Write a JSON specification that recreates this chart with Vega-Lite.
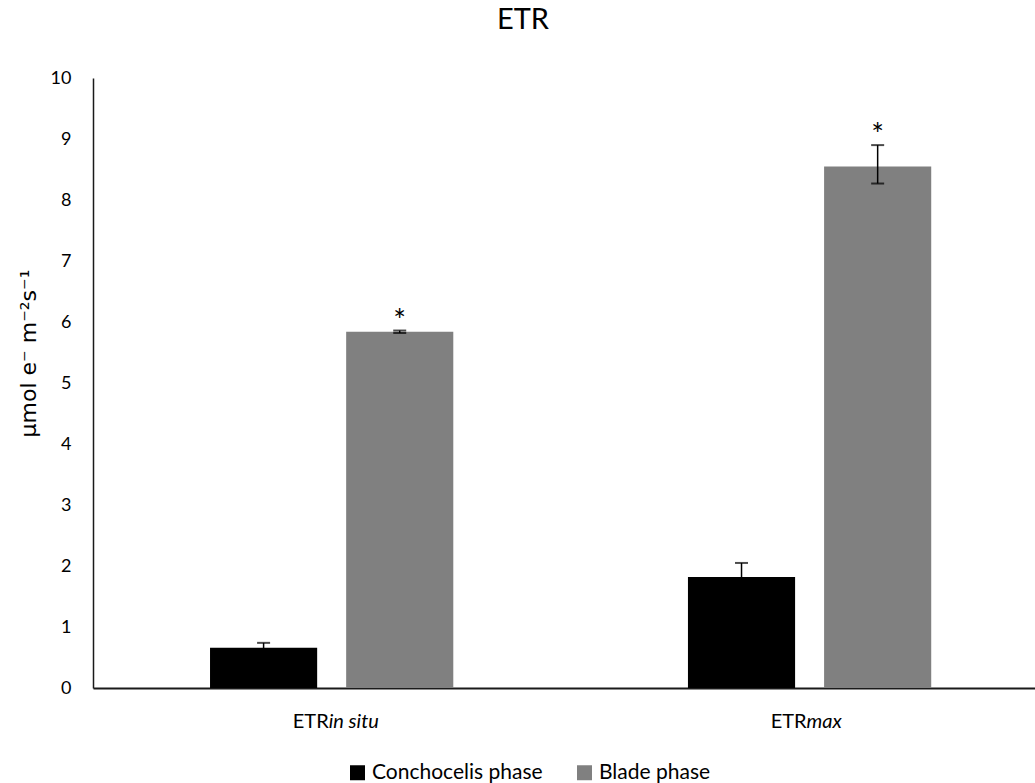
{
  "$schema": "https://vega.github.io/schema/vega-lite/v6.json",
  "width": 942,
  "height": 610,
  "autosize": "none",
  "padding": {"left": 93, "top": 78, "right": 0, "bottom": 95},
  "background": "white",
  "config": {"view": {"stroke": null}, "font": "Lato"},
  "title": {"text": "ETR", "fontSize": 29, "font": "Lato", "fontWeight": "normal", "color": "#000000", "dx": -41, "offset": 34, "anchor": "middle"},
  "data": {"values": [
    {"param": "insitu", "prefix": "ETR", "suffix": "in situ", "phase": "Conchocelis phase", "value": 0.66, "low": 0.58, "high": 0.74, "sig": ""},
    {"param": "insitu", "prefix": "ETR", "suffix": "in situ", "phase": "Blade phase", "value": 5.84, "low": 5.82, "high": 5.86, "sig": "*"},
    {"param": "max", "prefix": "ETR", "suffix": "max", "phase": "Conchocelis phase", "value": 1.82, "low": 1.59, "high": 2.05, "sig": ""},
    {"param": "max", "prefix": "ETR", "suffix": "max", "phase": "Blade phase", "value": 8.55, "low": 8.27, "high": 8.9, "sig": "*"}
  ]},
  "encoding": {
    "x": {"field": "param", "type": "nominal", "sort": ["insitu", "max"],
      "scale": {"paddingInner": 0.491, "paddingOuter": 0.231, "align": 0.53},
      "axis": {"labels": false, "ticks": false, "title": null, "domainColor": "#1a1a1a", "domainWidth": 2}}
  },
  "layer": [
    {
      "mark": {"type": "bar"},
      "encoding": {
        "xOffset": {"field": "phase", "type": "nominal", "sort": ["Conchocelis phase", "Blade phase"], "scale": {"paddingInner": 0.213, "paddingOuter": 0}},
        "y": {"field": "value", "type": "quantitative", "scale": {"domain": [0, 10], "nice": false},
          "axis": {"title": "μmol e⁻ m⁻²s⁻¹", "titleFont": "DejaVu Sans", "titleFontSize": 22, "titleFontWeight": "normal", "titleColor": "#000000", "titlePadding": 10, "titleY": 275,
            "grid": false, "ticks": false, "labelPadding": 22, "labelFontSize": 18, "labelColor": "#000000", "format": "d",
            "values": [0, 1, 2, 3, 4, 5, 6, 7, 8, 9, 10], "domainColor": "#1a1a1a", "domainWidth": 1.5}},
        "color": {"field": "phase", "type": "nominal", "sort": ["Conchocelis phase", "Blade phase"],
          "scale": {"domain": ["Conchocelis phase", "Blade phase"], "range": ["#000000", "#808080"]},
          "legend": {"title": null, "orient": "none", "direction": "horizontal", "legendX": 254, "legendY": 684, "labelLimit": 400,
            "symbolType": "square", "symbolSize": 225, "symbolStrokeWidth": 0, "labelFontSize": 21, "labelColor": "#000000", "labelOffset": 4, "columnPadding": 31}}
      }
    },
    {
      "mark": {"type": "rule", "color": "#000000", "strokeWidth": 1.5},
      "encoding": {
        "xOffset": {"field": "phase", "type": "nominal", "sort": ["Conchocelis phase", "Blade phase"]},
        "y": {"field": "low", "type": "quantitative"},
        "y2": {"field": "high"}
      }
    },
    {
      "mark": {"type": "tick", "color": "#000000", "size": 13, "thickness": 2},
      "encoding": {
        "xOffset": {"field": "phase", "type": "nominal", "sort": ["Conchocelis phase", "Blade phase"]},
        "y": {"field": "high", "type": "quantitative"}
      }
    },
    {
      "mark": {"type": "tick", "color": "#000000", "size": 13, "thickness": 2},
      "encoding": {
        "xOffset": {"field": "phase", "type": "nominal", "sort": ["Conchocelis phase", "Blade phase"]},
        "y": {"field": "low", "type": "quantitative"}
      }
    },
    {
      "mark": {"type": "text", "fontSize": 30, "color": "#000000", "baseline": "bottom", "dy": 6},
      "encoding": {
        "xOffset": {"field": "phase", "type": "nominal", "sort": ["Conchocelis phase", "Blade phase"]},
        "y": {"field": "high", "type": "quantitative"},
        "text": {"field": "sig"}
      }
    },
    {
      "transform": [{"filter": "datum.phase === 'Conchocelis phase'"}],
      "mark": {"type": "text", "fontSize": 20, "color": "#000000", "align": "right", "baseline": "middle", "dx": -3, "dy": 34},
      "encoding": {
        "y": {"datum": 0, "type": "quantitative"},
        "text": {"field": "prefix"}
      }
    },
    {
      "transform": [{"filter": "datum.phase === 'Conchocelis phase'"}],
      "mark": {"type": "text", "fontSize": 20, "color": "#000000", "align": "left", "baseline": "middle", "fontStyle": "italic", "dx": -3, "dy": 34},
      "encoding": {
        "y": {"datum": 0, "type": "quantitative"},
        "text": {"field": "suffix"}
      }
    }
  ]
}
